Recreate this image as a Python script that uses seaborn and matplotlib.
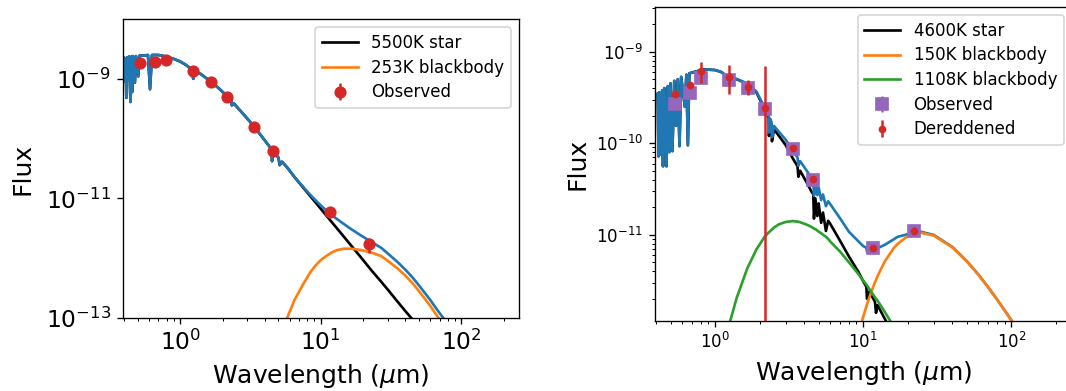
import numpy as np
import matplotlib
matplotlib.use("Agg")
import matplotlib.pyplot as plt
import seaborn as sns
from matplotlib.ticker import NullLocator, FixedLocator

nan = np.nan

# ---------------- Left panel data (5500K star + 253K blackbody) ----------------
wl_L = [0.385, 0.40, 0.405, 0.41, 0.414, 0.42, 0.427, 0.433, 0.443, 0.45, 0.455,
        0.462, 0.476, 0.485, 0.503, 0.515, 0.55, 0.59, 0.61, 0.63, 0.70, 0.80,
        0.9, 1.0, 1.1, 1.2, 1.24, 1.28, 1.4, 1.65, 1.9, 2.16, 2.3, 2.33, 2.4,
        2.8, 3.35, 4.0, 4.45, 4.5, 4.6, 5.0, 5.1, 5.3, 5.76, 6.5, 7.6, 8.5,
        9.2, 10, 11, 12, 13, 14.5, 16.5, 19, 23, 27, 30, 35, 40, 45, 50, 60,
        66, 75, 80]
star_L = [1.9e-9, 2.25e-9, 9e-10, 2.2e-9, 4.8e-10, 2.3e-9, 1.0e-9, 2.35e-9, 4.1e-10,
          2.35e-9, 6e-10, 2.4e-9, 8.6e-10, 2.4e-9, 1.1e-9, 2.45e-9, 2.45e-9, 2.5e-9,
          6.7e-10, 2.5e-9, 2.5e-9, 2.35e-9, 2.15e-9, 1.95e-9, 1.7e-9, 1.45e-9,
          1.0e-9, 1.35e-9, 1.2e-9, 9.0e-10, 6.8e-10, 5.1e-10, 4.3e-10, 3.6e-10,
          3.9e-10, 2.6e-10, 1.6e-10, 9.3e-11, 6.7e-11, 4.2e-11, 6.0e-11, 4.8e-11,
          3.6e-11, 4.1e-11, 3.3e-11, 2.27e-11, 1.46e-11, 1.06e-11,
          8.5e-12, 6.7e-12, 5.1e-12, 3.98e-12, 3.18e-12, 2.33e-12, 1.61e-12,
          1.08e-12, 6.2e-13, 4.0e-13, 2.97e-13, 1.9e-13, 1.3e-13, 9.4e-14,
          6.9e-14, 4.1e-14, 3.1e-14, 2.2e-14, 1.8e-14]
bb_L = [nan] * 43 + [6e-14, 1.0e-13, 2.0e-13, 3.9e-13, 6.0e-13,
                     7.6e-13, 9.3e-13, 1.1e-12, 1.25e-12, 1.36e-12, 1.44e-12, 1.44e-12,
                     1.38e-12, 1.24e-12, 1.08e-12, 9.0e-13, 6.8e-13, 5.1e-13, 3.8e-13,
                     2.8e-13, 1.6e-13, 1.15e-13, 7.5e-14, 6.0e-14]

obs_wl_L = [0.52, 0.66, 0.79, 1.235, 1.66, 2.16, 3.35, 4.6, 11.56, 22.1]
obs_f_L = [1.85e-9, 1.9e-9, 2.08e-9, 1.36e-9, 8.9e-10, 5.0e-10, 1.58e-10, 6.1e-11, 5.9e-12, 1.7e-12]
obs_e_L = [5e-11, 5e-11, 5e-11, 3e-11, 2e-11, 1e-11, 3e-12, 1e-12, 2e-13, 5e-13]

# ---------------- Right panel data (4600K star + 150K + 1108K blackbodies) ----------------
wl_R = [0.40, 0.41, 0.415, 0.42, 0.43, 0.44, 0.445, 0.455, 0.47, 0.48, 0.49, 0.50,
        0.515, 0.53, 0.545, 0.56, 0.575, 0.59, 0.625, 0.64, 0.655, 0.67, 0.75,
        0.85, 1.0, 1.1, 1.2, 1.27, 1.4, 1.65, 1.9, 2.16, 2.3, 2.31, 2.35, 2.4,
        2.42, 2.5, 2.7, 3.0, 3.35, 3.6, 3.65, 3.75, 4.2, 4.5, 4.6, 4.65, 4.75,
        4.9, 5.0, 5.2, 5.35, 5.6, 5.8, 6, 7, 8, 9.3, 10, 10.5, 10.6, 11, 12,
        12.2, 12.5, 14, 16, 17, 20, 24.5, 30, 40, 50, 60, 70, 80, 90, 100, 105, 110]
star_R = [3.3e-10, 3.5e-10, 7.2e-11, 3.6e-10, 7.5e-11, 3.8e-10, 5.6e-11, 4.0e-10,
          5.6e-11, 4.2e-10, 8e-11, 4.5e-10, 8.2e-11, 4.8e-10, 1.55e-10, 5.0e-10,
          9.3e-11, 5.3e-10, 2.5e-10, 5.6e-10, 9.5e-11, 5.8e-10, 6.1e-10, 6.4e-10,
          6.3e-10, 6.0e-10, 5.4e-10, 5.2e-10, 5.0e-10, 4.45e-10, 3.6e-10, 2.36e-10,
          1.9e-10, 1.2e-10, 1.75e-10, 1.6e-10, 1.05e-10, 1.42e-10, 1.2e-10,
          9.5e-11, 6.8e-11, 5.6e-11, 4.3e-11, 5.0e-11, 3.6e-11, 2.9e-11, 2.8e-11,
          1.5e-11, 2.5e-11, 1.6e-11, 2.2e-11, 1.35e-11, 1.75e-11, 1.1e-11, 1.42e-11,
          1.31e-11, 8.5e-12, 5.8e-12, 3.9e-12, 3.1e-12, 2.7e-12, 2.0e-12, 2.4e-12,
          1.85e-12, 1.4e-12, 1.7e-12, 1.2e-12, 8e-13, 6.8e-13, 4.6e-13, 2.8e-13,
          1.6e-13, 7.2e-14, 3.8e-14, 2.3e-14, 1.5e-14, 1e-14, 7e-15, 5e-15,
          4.5e-15, 4e-15]
bb_hot_R = [nan] * 26 + [8e-13, 1.17e-12, 2.05e-12, 4.3e-12, 6.9e-12, 9.5e-12,
                         1.06e-11, 1.065e-11, 1.09e-11, 1.135e-11, 1.14e-11, 1.2e-11,
                         1.3e-11, 1.38e-11, 1.41e-11, 1.39e-11, 1.385e-11, 1.37e-11,
                         1.28e-11, 1.21e-11, 1.18e-11, 1.17e-11, 1.15e-11, 1.11e-11,
                         1.08e-11, 1.04e-11, 1.0e-11, 9.5e-12, 9.0e-12, 8.4e-12,
                         6.5e-12, 5.0e-12, 3.7e-12, 3.15e-12, 2.85e-12, 2.8e-12,
                         2.55e-12, 2.07e-12, 2.0e-12, 1.9e-12, 1.43e-12, 1.0e-12,
                         8.8e-13] + [nan] * 12
bb_cold_R = [nan] * 58 + [8.3e-13, 1.27e-12, 1.65e-12, 1.73e-12, 2.07e-12, 3.03e-12,
                          3.2e-12, 3.54e-12, 5.13e-12, 7.08e-12, 7.9e-12, 9.7e-12,
                          1.05e-11, 9.78e-12, 7.27e-12, 5.12e-12, 3.64e-12, 2.64e-12,
                          1.96e-12, 1.49e-12, 1.16e-12, 1.02e-12, 9.1e-13]

obs_wl_R = [0.535, 0.68, 0.80, 1.235, 1.66, 2.16, 3.35, 4.6, 11.56, 22.1]
obs_f_R = [2.7e-10, 3.56e-10, 5.15e-10, 4.9e-10, 4.0e-10, 2.38e-10, 8.55e-11, 3.95e-11, 7.1e-12, 1.11e-11]
obs_e_R = [2e-11, 2e-11, 3e-11, 2e-11, 2e-11, 1e-11, 3e-12, 1.5e-12, 3e-13, 6e-13]
der_f_R = [3.47e-10, 4.28e-10, 6.2e-10, 5.33e-10, 4.14e-10, 2.45e-10, 8.8e-11, 4.02e-11, 7.1e-12, 1.11e-11]
der_e_R = [3e-11, 4e-11, 1.6e-10, 1.9e-10, 8e-11, 4.6e-10, 5e-12, 2e-12, 5e-13, 1.2e-12]

# ---------------- Figure ----------------
DPI = 120
fig = plt.figure(figsize=(1066 / DPI, 391 / DPI), dpi=DPI)
axL = fig.add_axes([0.1151, 0.1867, 0.3718, 0.7647])
axR = fig.add_axes([0.614, 0.1798, 0.3917, 0.803])


def draw_line(ax, x, y, color, label=None, z=2):
    x = np.asarray(x, float)
    y = np.asarray(y, float)
    m = np.isfinite(y)
    sns.lineplot(x=x[m], y=y[m], ax=ax, color=color, label=label, lw=1.6,
                 estimator=None, sort=False, legend=False, zorder=z)


def log_ticks(lo, hi):
    major, minor = [], []
    for e in range(int(np.floor(np.log10(lo))), int(np.ceil(np.log10(hi))) + 1):
        for k in range(1, 10):
            v = k * 10.0 ** e
            if lo <= v <= hi:
                (major if k == 1 else minor).append(v)
    return major, minor


leg_kw = dict(loc="upper right", fontsize=10, labelspacing=0.4, handlelength=2.15)
XLIM = (0.39, 257)

# Left
axL.set_xscale("log")
axL.set_yscale("log")
tot_L = np.asarray(star_L) + np.nan_to_num(np.asarray(bb_L, float))
draw_line(axL, wl_L, star_L, "black", "5500K star", 2)
draw_line(axL, wl_L, tot_L, "#1f77b4", None, 2.1)
draw_line(axL, wl_L, bb_L, "#ff7f0e", "253K blackbody", 2.2)
axL.errorbar(obs_wl_L, obs_f_L, yerr=obs_e_L, fmt="o", color="#d62728", ms=6.3,
             label="Observed", zorder=3)
axL.set_xlim(*XLIM)
axL.set_ylim(1e-13, 1e-8)
xmaj, xmin = log_ticks(*XLIM)
axL.xaxis.set_major_locator(FixedLocator(xmaj))
axL.xaxis.set_minor_locator(FixedLocator(xmin))
axL.yaxis.set_major_locator(FixedLocator([1e-13, 1e-11, 1e-9]))
axL.yaxis.set_minor_locator(NullLocator())
axL.tick_params(axis="both", which="major", labelsize=14)
axL.set_xlabel(r"Wavelength ($\mu$m)", fontsize=15)
axL.set_ylabel("Flux", fontsize=15, labelpad=7)
axL.legend(**leg_kw)

# Right
axR.set_xscale("log")
axR.set_yscale("log")
tot_R = (np.asarray(star_R) + np.nan_to_num(np.asarray(bb_hot_R, float))
         + np.nan_to_num(np.asarray(bb_cold_R, float)))
draw_line(axR, wl_R, star_R, "black", "4600K star", 2)
draw_line(axR, wl_R, tot_R, "#1f77b4", None, 2.1)
draw_line(axR, wl_R, bb_cold_R, "#ff7f0e", "150K blackbody", 2.2)
draw_line(axR, wl_R, bb_hot_R, "#2ca02c", "1108K blackbody", 2.3)
axR.errorbar(obs_wl_R, obs_f_R, yerr=obs_e_R, fmt="s", color="#9467bd", ms=7.5,
             label="Observed", zorder=3)
axR.errorbar(obs_wl_R, der_f_R, yerr=der_e_R, fmt="o", color="#d62728", ms=3.6,
             label="Dereddened", zorder=4)
YLIM_R = (1.15e-12, 3.1e-9)
axR.set_xlim(*XLIM)
axR.set_ylim(*YLIM_R)
axR.xaxis.set_major_locator(FixedLocator(xmaj))
axR.xaxis.set_minor_locator(FixedLocator(xmin))
ymaj, ymin = log_ticks(*YLIM_R)
axR.yaxis.set_major_locator(FixedLocator(ymaj))
axR.yaxis.set_minor_locator(FixedLocator(ymin))
axR.tick_params(axis="both", which="major", labelsize=10)
axR.tick_params(axis="both", which="minor", labelleft=False, labelbottom=False)
axR.set_xlabel(r"Wavelength ($\mu$m)", fontsize=15)
axR.set_ylabel("Flux", fontsize=15)
axR.legend(**leg_kw)
axL.tick_params(axis="both", which="minor", labelleft=False, labelbottom=False)

fig.savefig("out.png", dpi=DPI)
